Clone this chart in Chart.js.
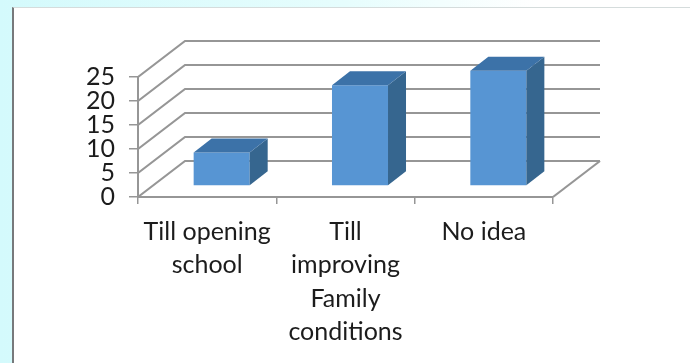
<!DOCTYPE html>
<html>
<head>
<meta charset="utf-8">
<script src="https://cdn.jsdelivr.net/npm/chart.js@4"></script>
<style>
  html, body { margin: 0; padding: 0; width: 690px; height: 363px; overflow: hidden; }
  body { background: linear-gradient(90deg, #d4fafc 0, #e6fdfd 50%, #ffffff 78%); position: relative; }
  #panel { position: absolute; left: 12px; top: 7px; right: 0; bottom: 0; background: #fff;
           border-left: 2px solid #77797b; border-top: 1px solid #d5dcdc; }
  #wrap { position: absolute; left: 0; top: 0; width: 690px; height: 363px; filter: blur(0.4px); }
</style>
</head>
<body>
<div id="panel"></div>
<div id="wrap"><canvas id="canvas" width="690" height="363"></canvas></div>
<script>
const categories = [['Till opening', 'school'], ['Till', 'improving', 'Family', 'conditions'], 'No idea'];
const values = [7, 21, 24];
const yMax = 25;
const yStep = 5;

const fontFamily = 'Lato, sans-serif';
const wallDepth = { x: 47, y: -36 };
const barShift = { x: 14.5, y: -11 };
const barDepth = { x: 18, y: -14 };
const gridColor = '#969696';

function poly(ctx, pts, fill) {
  ctx.beginPath();
  pts.forEach((p, i) => (i ? ctx.lineTo(p[0], p[1]) : ctx.moveTo(p[0], p[1])));
  ctx.closePath();
  ctx.fillStyle = fill;
  ctx.fill();
}

const fake3d = {
  id: 'fake3d',
  beforeDatasetsDraw(chart) {
    const { ctx, chartArea: a, scales: { y } } = chart;
    ctx.save();
    ctx.strokeStyle = gridColor;
    ctx.lineWidth = 2.2;
    y.ticks.forEach((t) => {
      const py = y.getPixelForValue(t.value);
      ctx.beginPath();
      ctx.moveTo(a.left, py);
      ctx.lineTo(a.left + wallDepth.x, py + wallDepth.y);
      ctx.lineTo(a.right + wallDepth.x, py + wallDepth.y);
      ctx.stroke();
    });
    // right edge of the floor
    ctx.beginPath();
    ctx.moveTo(a.right + wallDepth.x, a.bottom + wallDepth.y);
    ctx.lineTo(a.right, a.bottom);
    ctx.stroke();
    ctx.restore();
    ctx.save();
    ctx.translate(barShift.x, barShift.y);
  },
  afterDatasetsDraw(chart) {
    const { ctx } = chart;
    chart.getDatasetMeta(0).data.forEach((bar) => {
      const l = bar.x - bar.width / 2;
      const r = bar.x + bar.width / 2;
      const dx = barDepth.x;
      const dy = barDepth.y;
      poly(ctx, [[r, bar.y], [r + dx, bar.y + dy], [r + dx, bar.base + dy], [r, bar.base]], '#36668f');
      poly(ctx, [[l, bar.y], [l + dx, bar.y + dy], [r + dx, bar.y + dy], [r, bar.y]], '#3c72a8');
    });
    ctx.restore();
  },
};

new Chart(document.getElementById('canvas'), {
  type: 'bar',
  data: {
    labels: categories,
    datasets: [{
      data: values,
      backgroundColor: '#5795d3',
      barPercentage: 1,
      categoryPercentage: 0.405,
      clip: false,
    }],
  },
  plugins: [fake3d],
  options: {
    responsive: false,
    animation: false,
    layout: { autoPadding: false, padding: { top: 77, right: 137, bottom: 0, left: 0 } },
    plugins: { legend: { display: false }, tooltip: { enabled: false } },
    scales: {
      x: {
        afterFit(scale) { scale.height = 166; },
        border: { color: gridColor, width: 2 },
        grid: { drawOnChartArea: false, color: gridColor, tickLength: 7, lineWidth: 1.5 },
        ticks: {
          color: '#1c1c1c',
          maxRotation: 0,
          autoSkip: false,
          padding: 11,
          font: { family: fontFamily, size: 25, lineHeight: 33.5 / 25 },
        },
      },
      y: {
        min: 0,
        max: yMax,
        afterFit(scale) { scale.width = 138; },
        border: { color: gridColor, width: 2 },
        grid: { drawOnChartArea: false, color: gridColor, tickLength: 9, lineWidth: 1.5 },
        ticks: {
          stepSize: yStep,
          autoSkip: false,
          color: '#1c1c1c',
          padding: 14,
          font: { family: fontFamily, size: 25 },
        },
      },
    },
  },
});
</script>
</body>
</html>
